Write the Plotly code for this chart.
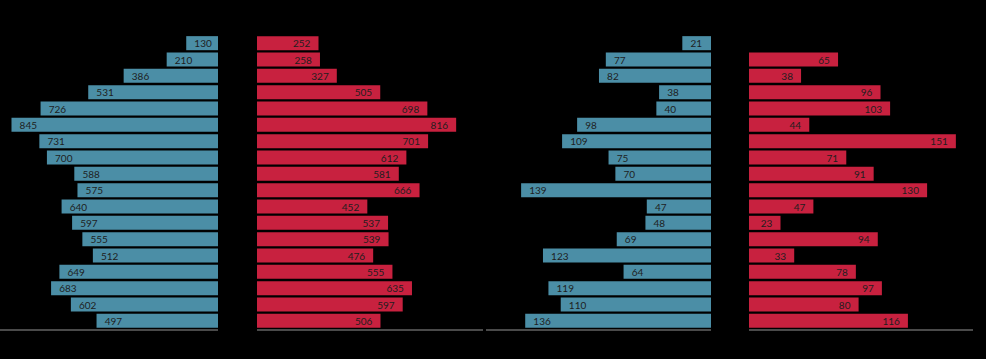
import plotly.graph_objects as go

rows = [f"r{i}" for i in range(1, 19)]
left_blue = [130, 210, 386, 531, 726, 845, 731, 700, 588, 575, 640, 597, 555, 512, 649, 683, 602, 497]
left_red = [252, 258, 327, 505, 698, 816, 701, 612, 581, 666, 452, 537, 539, 476, 555, 635, 597, 506]
right_blue = [21, 77, 82, 38, 40, 98, 109, 75, 70, 139, 47, 48, 69, 123, 64, 119, 110, 136]
right_red = [None, 65, 38, 96, 103, 44, 151, 71, 91, 130, 47, 23, 94, 33, 78, 97, 80, 116]

BLUE = "#4b8ea6"
RED = "#c8213f"
W = 986.0
PAD = "\u00a0\u00a0"

fig = go.Figure()

panels = [
    (left_blue, BLUE, "x", [0, 218], [892, 0], True),
    (left_red, RED, "x2", [257, 483], [0, 926], False),
    (right_blue, BLUE, "x3", [486, 711], [164.7, 0], True),
    (right_red, RED, "x4", [749, 973], [0, 163.5], False),
]

for i, (vals, col, xa, dom, rng, lead) in enumerate(panels):
    labels = []
    for v in vals:
        if v is None:
            labels.append("")
        elif lead:
            labels.append(PAD + str(v))
        else:
            labels.append(str(v) + PAD)
    fig.add_trace(go.Bar(
        x=vals, y=rows, orientation="h",
        marker=dict(color=col, line=dict(width=0)),
        text=labels,
        textposition="inside", insidetextanchor="end", textangle=0,
        textfont=dict(color="#1e1e1e", size=10, family="Lato"),
        xaxis=xa, yaxis="y", hoverinfo="x+y", showlegend=False,
    ))
    key = "xaxis" if i == 0 else f"xaxis{i+1}"
    fig.layout[key] = dict(
        domain=[dom[0] / W, dom[1] / W], range=rng,
        showgrid=False, zeroline=False, showticklabels=False, ticks="",
        showline=True, linecolor="#4a4a4a", linewidth=2,
        anchor="y", fixedrange=True,
    )

fig.update_layout(
    width=986, height=359,
    margin=dict(l=0, r=0, t=35, b=30),
    paper_bgcolor="black", plot_bgcolor="black",
    bargap=0.14,
    uniformtext=dict(minsize=10, mode="show"),
    yaxis=dict(autorange="reversed", showticklabels=False, showgrid=False,
               zeroline=False, ticks="", showline=False, fixedrange=True),
    font=dict(family="Lato", color="black"),
)

fig.write_html("out.html", config={"displayModeBar": False},
               post_script="document.body.style.margin='0';document.body.style.background='black';")
